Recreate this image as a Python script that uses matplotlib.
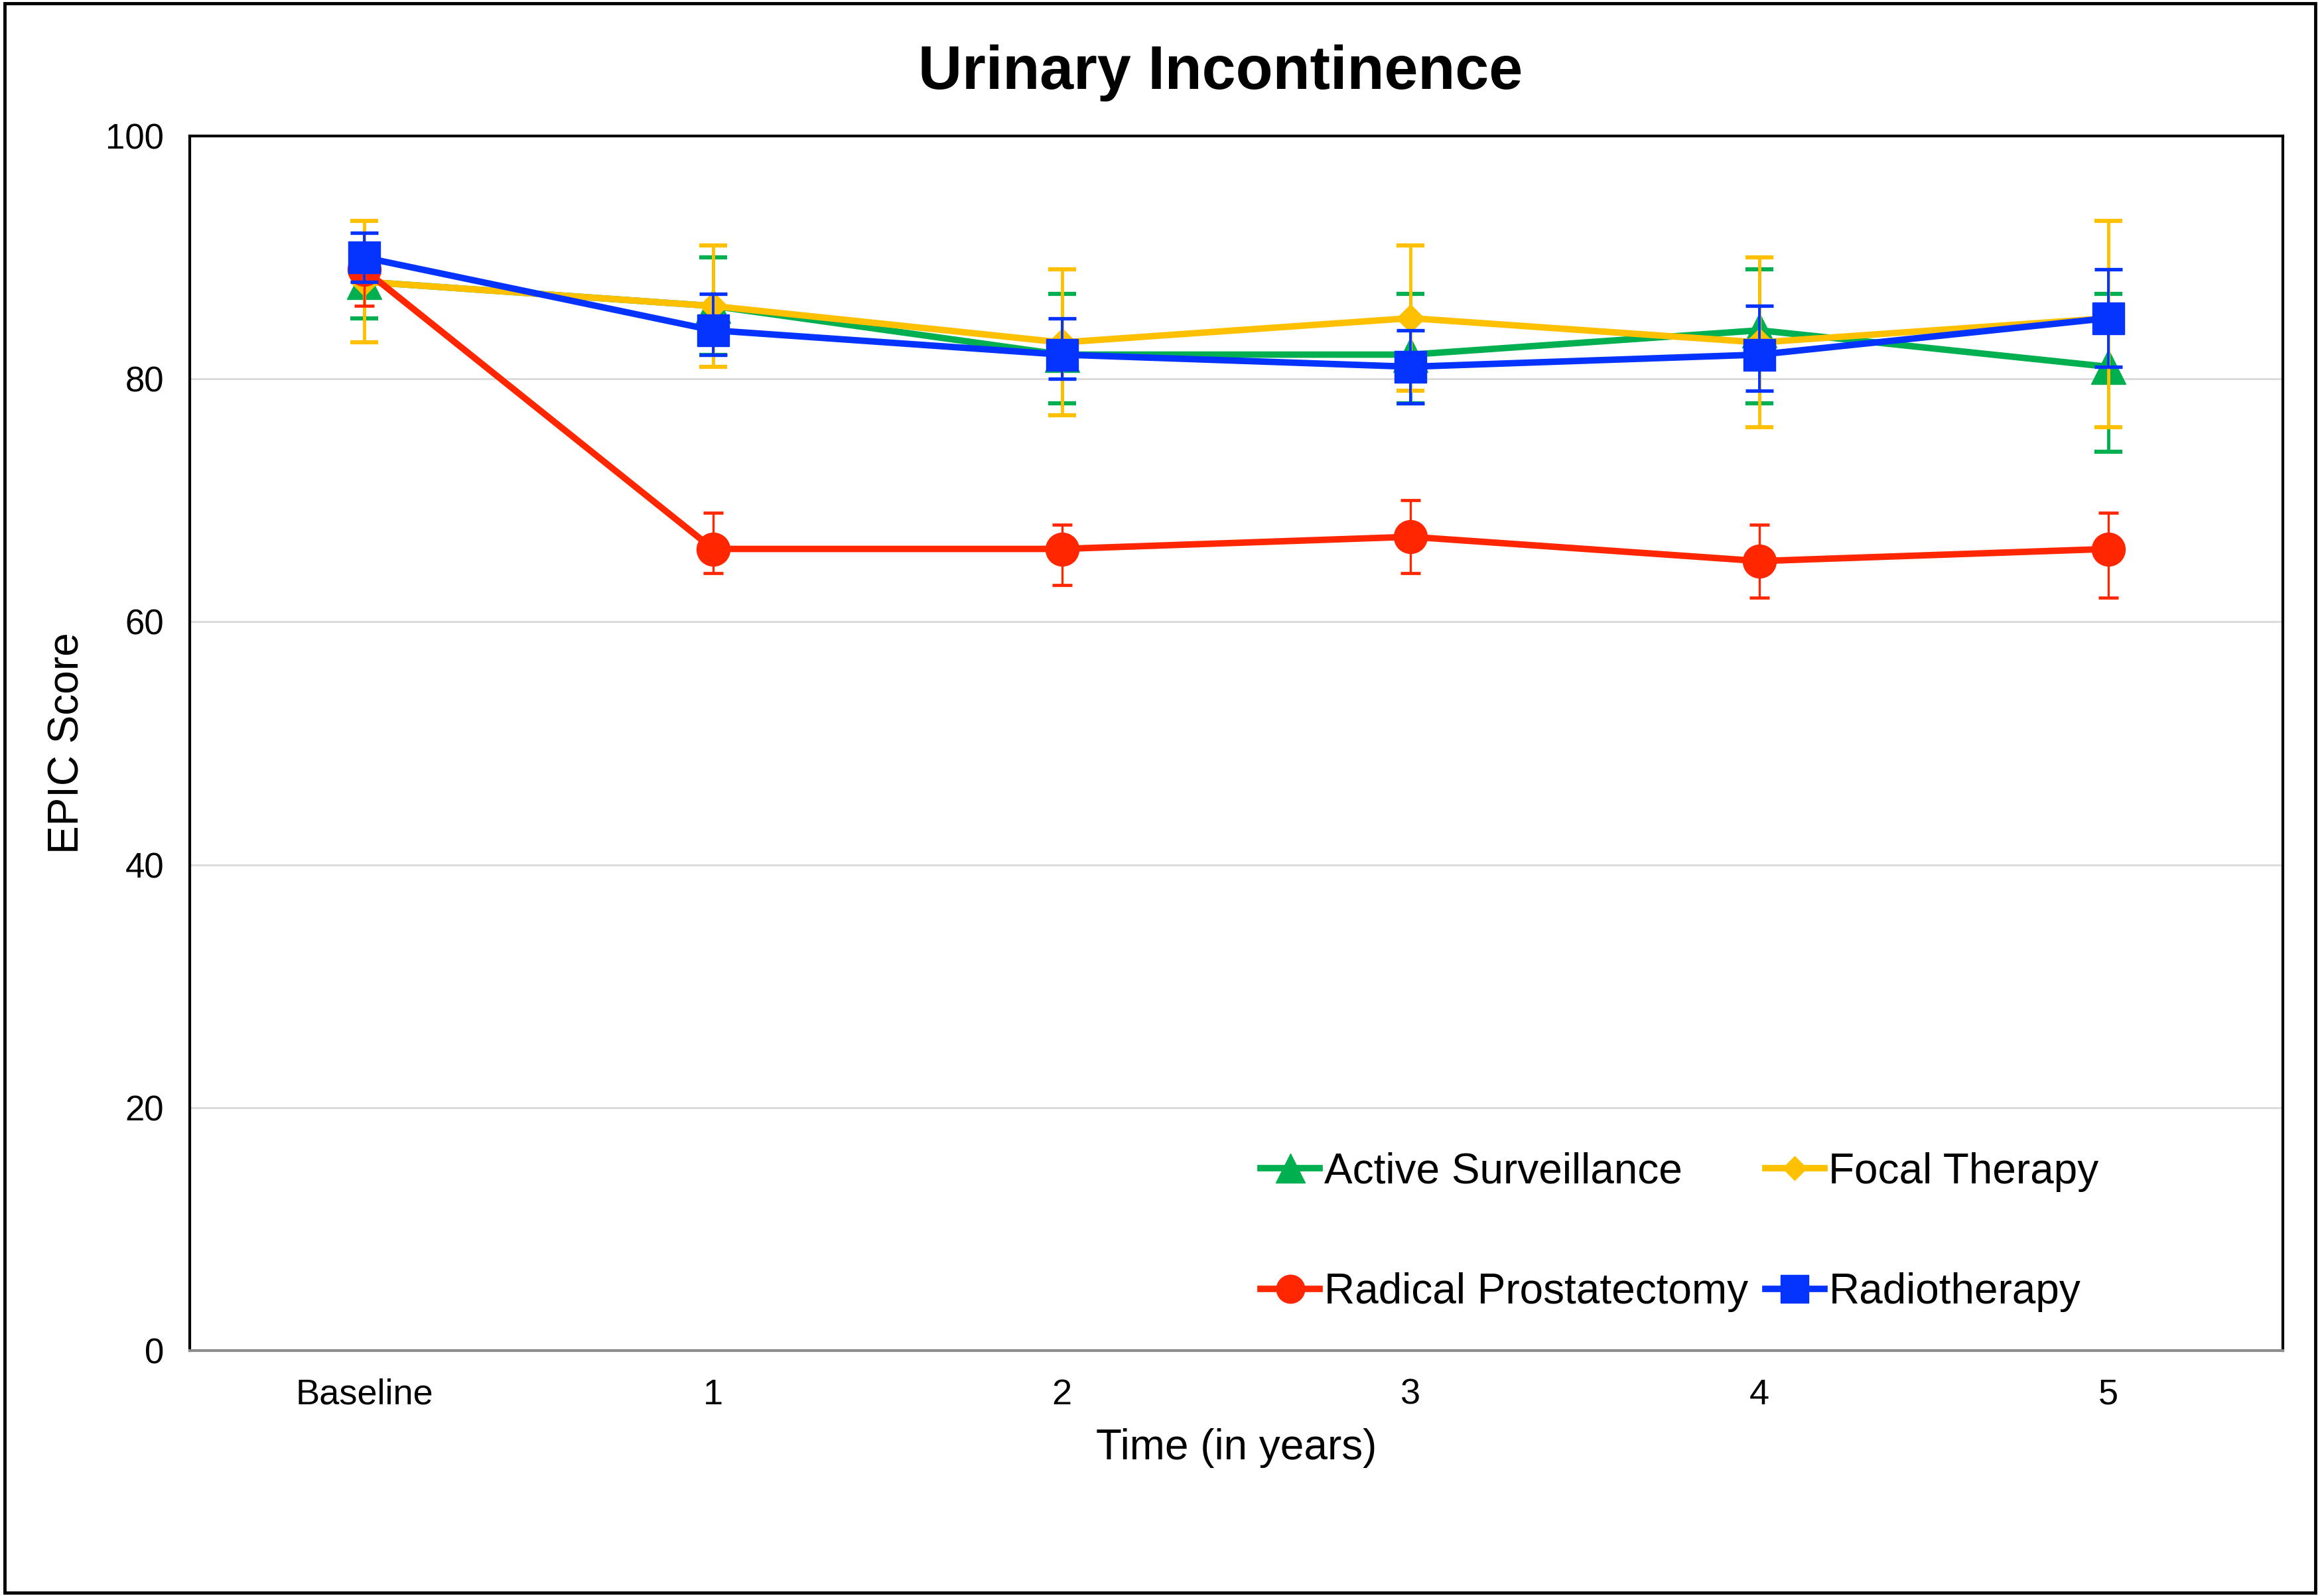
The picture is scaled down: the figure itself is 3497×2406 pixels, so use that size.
import matplotlib

matplotlib.use("Agg")
import matplotlib.pyplot as plt
import numpy as np
from matplotlib.patches import Rectangle

plt.rcParams["font.family"] = ["Liberation Sans", "DejaVu Sans"]

# Time points and series values.
time_labels = ["Baseline", "1", "2", "3", "4", "5"]

active_mean = [88, 86, 82, 82, 84, 81]
active_low = [85, 82, 78, 78, 78, 74]
active_high = [91, 90, 87, 87, 89, 87]

focal_mean = [88, 86, 83, 85, 83, 85]
focal_low = [83, 81, 77, 79, 76, 76]
focal_high = [93, 91, 89, 91, 90, 93]

prostatectomy_mean = [89, 66, 66, 67, 65, 66]
prostatectomy_low = [86, 64, 63, 64, 62, 62]
prostatectomy_high = [92, 69, 68, 70, 68, 69]

radio_mean = [90, 84, 82, 81, 82, 85]
radio_low = [88, 82, 80, 78, 79, 81]
radio_high = [92, 87, 85, 84, 86, 89]

series = [
    ("Active Surveillance", active_mean, active_low, active_high, "#00B050", "^", 37, 3.5, 15),
    ("Focal Therapy", focal_mean, focal_low, focal_high, "#FFC000", "D", 21, 3.5, 15),
    ("Radical Prostatectomy", prostatectomy_mean, prostatectomy_low, prostatectomy_high, "#FF2600", "o", 36, 2.4, 11),
    ("Radiotherapy", radio_mean, radio_low, radio_high, "#0433FF", "s", 35, 2.8, 15),
]

fig = plt.figure(figsize=(34.97, 24.06), dpi=100)
ax = fig.add_axes([0.0818, 0.1538, 0.9022, 0.761])

x = np.arange(len(time_labels))
handles = {}
for i, (name, mean, low, high, color, marker, msize, elw, cap) in enumerate(series):
    mean = np.array(mean)
    yerr = [mean - np.array(low), np.array(high) - mean]
    container = ax.errorbar(
        x, mean, yerr=yerr,
        color=color, linewidth=7, marker=marker, markersize=msize,
        elinewidth=elw, capsize=cap, capthick=elw + 1,
        label=name, zorder=3 + i,
    )
    handles[name] = container[0]

# Axes styling
ax.set_xlim(-0.5, len(time_labels) - 0.5)
ax.set_ylim(0, 100)
ax.set_yticks(range(0, 101, 20))
ax.set_xticks(x)
ax.set_xticklabels(time_labels)
ax.tick_params(axis="both", length=0)
ax.tick_params(axis="x", labelsize=39, pad=30)
ax.tick_params(axis="y", labelsize=38, pad=28)
ax.grid(axis="y", color="#D9D9D9", linewidth=2)
ax.set_axisbelow(True)
for side in ["top", "left", "right"]:
    ax.spines[side].set_color("black")
    ax.spines[side].set_linewidth(3)
ax.spines["bottom"].set_color("#8C8C8C")
ax.spines["bottom"].set_linewidth(3)

ax.set_xlabel("Time (in years)", fontsize=46, labelpad=18)
ax.set_ylabel("EPIC Score", fontsize=46, labelpad=20)
fig.suptitle("Urinary Incontinence", fontsize=66, fontweight="bold", x=0.526, y=0.972)

order = ["Active Surveillance", "Radical Prostatectomy", "Focal Therapy", "Radiotherapy"]
fig.legend(
    [handles[n] for n in order], order,
    ncol=2, loc="center", bbox_to_anchor=(0.724, 0.228),
    frameon=False, fontsize=46, handlelength=1.4, handletextpad=0.1,
    columnspacing=0.4, labelspacing=1.9, markerscale=0.85, borderpad=0,
)

# Outer border around the whole figure
fig.patches.append(
    Rectangle((0.002, 0.002), 0.996, 0.996, transform=fig.transFigure,
              fill=False, edgecolor="black", linewidth=3.5)
)

fig.savefig("out.png", dpi=100)
plt.close(fig)
